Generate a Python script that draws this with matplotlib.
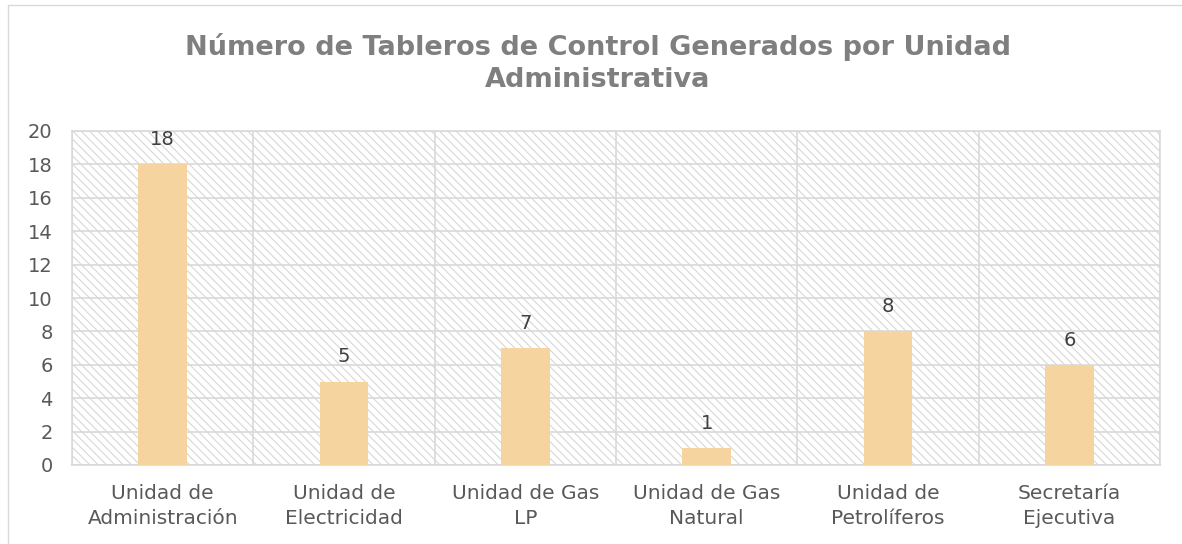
import matplotlib
matplotlib.use("Agg")
import matplotlib.pyplot as plt
import matplotlib.patches as patches
import numpy as np

categories = ["Unidad de\nAdministración", "Unidad de\nElectricidad", "Unidad de Gas\nLP",
              "Unidad de Gas\nNatural", "Unidad de\nPetrolíferos", "Secretaría\nEjecutiva"]
values = [18, 5, 7, 1, 8, 6]
yticks = [0, 2, 4, 6, 8, 10, 12, 14, 16, 18, 20]
title = "Número de Tableros de Control Generados por Unidad\nAdministrativa"

plt.rcParams['font.family'] = ['DejaVu Sans']
plt.rcParams['hatch.linewidth'] = 0.7

fig = plt.figure(figsize=(11.82, 5.44), dpi=100)
ax = fig.add_axes([72/1182, 1-465/544, (1160-72)/1182, (465-131)/544])

# outer chart border
fig.patches.append(patches.Rectangle((8/1182, -0.1), 1.2, 1.1 - 5/544, transform=fig.transFigure,
                                     fill=False, edgecolor='#d9d9d9', lw=1))

# hatched plot area
ax.add_patch(patches.Rectangle((0, 0), 1, 1, transform=ax.transAxes, facecolor='white',
                               edgecolor='#d2d2d2', hatch='\\\\\\\\', lw=0, zorder=0))

x = np.arange(len(categories))
bars = ax.bar(x, values, width=0.27, color='#F5D49F', zorder=3)
for xi, v in zip(x, values):
    ax.annotate(str(v), (xi, v), xytext=(0, 11), textcoords='offset points',
                ha='center', va='bottom', fontsize=14, color='#404040')

ax.set_xlim(-0.5, len(categories) - 0.5)
ax.set_ylim(0, 20)
ax.set_yticks(yticks)
ax.set_xticks(x)
ax.set_xticklabels(categories, fontsize=14.5, color='#595959', linespacing=1.4)
ax.set_xticks(np.arange(len(categories) + 1) - 0.5, minor=True)
ax.tick_params(axis='both', which='both', length=0)
ax.tick_params(axis='y', labelsize=14, labelcolor='#595959', pad=14)
ax.tick_params(axis='x', pad=14)
ax.grid(axis='y', color='#d9d9d9', lw=1.2, zorder=1)
ax.grid(axis='x', which='minor', color='#d9d9d9', lw=1.2, zorder=1)
ax.grid(axis='x', which='major', visible=False)
for s in ax.spines.values():
    s.set_color('#d9d9d9')
    s.set_linewidth(1.2)
ax.set_axisbelow(True)

fig.text(598/1182, 1-63/544, title, ha='center', va='center', fontsize=19.5, fontweight='bold',
         color='#7f7f7f', linespacing=1.3)

fig.savefig("out.png", dpi=100)
